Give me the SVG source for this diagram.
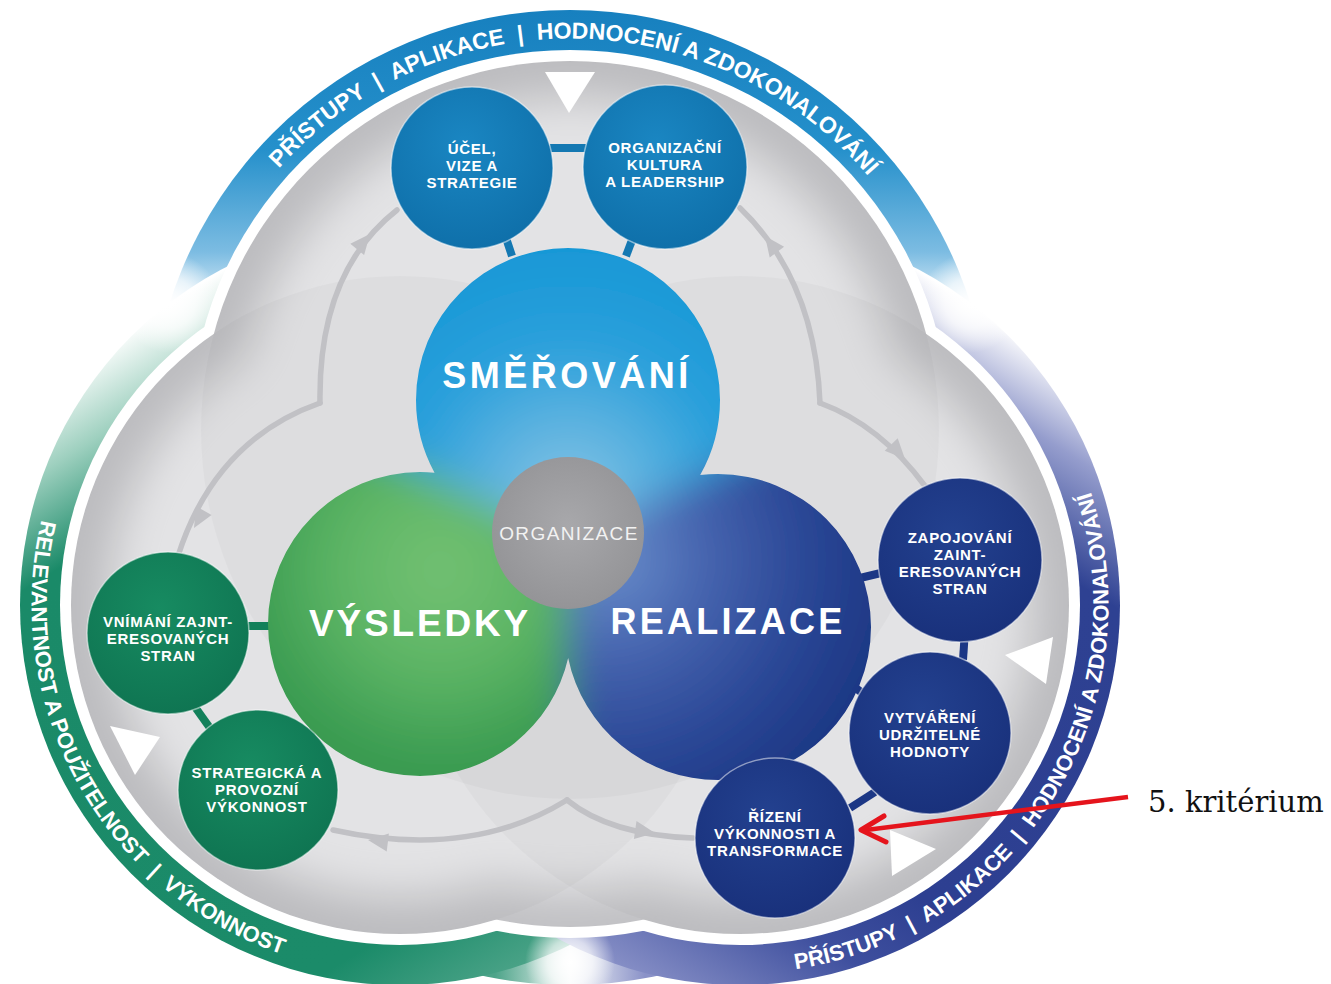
<svg xmlns="http://www.w3.org/2000/svg" width="1331" height="984" viewBox="0 0 1331 984">
<defs>
<style>
.ringtxt{font-family:"Liberation Sans",Arial,sans-serif;font-weight:bold;font-size:23px;fill:#fff;white-space:pre}
.sat{font-family:"Liberation Sans",Arial,sans-serif;font-weight:bold;font-size:15px;letter-spacing:0.7px;fill:#fff;text-anchor:middle}
.big{font-family:"Liberation Sans",Arial,sans-serif;font-weight:bold;fill:#fff;text-anchor:middle}
.flow{fill:none;stroke:#c1c1c5;stroke-width:5.5;stroke-linecap:round}
.head{fill:#c1c1c5}
.bar-b{stroke:#1478b2;stroke-width:8}
.bar-g{stroke:#12805a;stroke-width:8}
.bar-n{stroke:#1c3785;stroke-width:8}
.tri{fill:#fff}
.satc{stroke:#fff;stroke-opacity:0.5;stroke-width:1.5}
.grey{fill:#c1c1c4}
.light{fill:#e9e9eb}
.wht{fill:#fff}
.ovl{fill:#000;fill-opacity:0.025}
</style>
<linearGradient id="gTop" gradientUnits="userSpaceOnUse" x1="0" y1="10" x2="0" y2="320">
 <stop offset="0" stop-color="#1780bf"/>
 <stop offset="0.45" stop-color="#2590cb"/>
 <stop offset="0.78" stop-color="#7cbce2"/>
 <stop offset="1" stop-color="#ffffff"/>
</linearGradient>
<linearGradient id="gGreen" gradientUnits="userSpaceOnUse" x1="170" y1="303" x2="570" y2="945">
 <stop offset="0" stop-color="#ffffff"/>
 <stop offset="0.1" stop-color="#9ed0bf"/>
 <stop offset="0.22" stop-color="#1a8a68"/>
 <stop offset="0.86" stop-color="#1b8b69"/>
 <stop offset="1" stop-color="#4da489"/>
</linearGradient>
<linearGradient id="gNavy" gradientUnits="userSpaceOnUse" x1="570" y1="945" x2="970" y2="303">
 <stop offset="0" stop-color="#8a92c8"/>
 <stop offset="0.18" stop-color="#3e4f9e"/>
 <stop offset="0.3" stop-color="#2d3f91"/>
 <stop offset="0.76" stop-color="#2e4192"/>
 <stop offset="0.9" stop-color="#959dcd"/>
 <stop offset="1" stop-color="#ffffff"/>
</linearGradient>
<linearGradient id="gBottom" gradientUnits="userSpaceOnUse" x1="495" y1="0" x2="645" y2="0">
 <stop offset="0" stop-color="#4da489"/>
 <stop offset="0.5" stop-color="#f4f7f8"/>
 <stop offset="1" stop-color="#8a92c8"/>
</linearGradient>
<radialGradient id="glare">
 <stop offset="0" stop-color="#fff" stop-opacity="1"/>
 <stop offset="0.5" stop-color="#fff" stop-opacity="0.7"/>
 <stop offset="1" stop-color="#fff" stop-opacity="0"/>
</radialGradient>
<radialGradient id="secTop" gradientUnits="userSpaceOnUse" cx="568" cy="500" r="260">
 <stop offset="0" stop-color="#8ac6e4"/>
 <stop offset="0.3" stop-color="#5cb2e0"/>
 <stop offset="0.6" stop-color="#2aa0db"/>
 <stop offset="1" stop-color="#1797d6"/>
</radialGradient>
<radialGradient id="secGreen" gradientUnits="userSpaceOnUse" cx="440" cy="570" r="200">
 <stop offset="0" stop-color="#74c173"/>
 <stop offset="0.5" stop-color="#5db565"/>
 <stop offset="1" stop-color="#389a50"/>
</radialGradient>
<radialGradient id="secNavy" gradientUnits="userSpaceOnUse" cx="610" cy="560" r="280">
 <stop offset="0" stop-color="#6a8fcc"/>
 <stop offset="0.35" stop-color="#4563ae"/>
 <stop offset="0.7" stop-color="#2a4796"/>
 <stop offset="1" stop-color="#1d3784"/>
</radialGradient>
<radialGradient id="satB" cx="45%" cy="35%" r="65%">
 <stop offset="0" stop-color="#1a86c2"/>
 <stop offset="1" stop-color="#0f70aa"/>
</radialGradient>
<radialGradient id="satG" cx="45%" cy="35%" r="65%">
 <stop offset="0" stop-color="#178b61"/>
 <stop offset="1" stop-color="#0f7552"/>
</radialGradient>
<radialGradient id="satN" cx="45%" cy="35%" r="65%">
 <stop offset="0" stop-color="#23418f"/>
 <stop offset="1" stop-color="#19317c"/>
</radialGradient>
<radialGradient id="orgG" cx="50%" cy="45%" r="55%">
 <stop offset="0" stop-color="#a8a8ab"/>
 <stop offset="1" stop-color="#949497"/>
</radialGradient>
<filter id="blur" filterUnits="userSpaceOnUse" x="0" y="0" width="1331" height="984">
 <feGaussianBlur stdDeviation="20"/>
</filter>
<filter id="blurGrey" filterUnits="userSpaceOnUse" x="0" y="0" width="1331" height="984">
 <feGaussianBlur stdDeviation="22"/>
</filter>
<clipPath id="coreClip">
 <circle cx="568" cy="400" r="152"/>
 <circle cx="420" cy="624" r="152"/>
 <circle cx="718" cy="627" r="153"/>
</clipPath>
<clipPath id="greyClip">
 <circle cx="570" cy="430" r="369"/>
 <circle cx="400" cy="605" r="329"/>
 <circle cx="740" cy="605" r="329"/>
 <circle cx="570" cy="560" r="367"/>
</clipPath>
<path id="pTop" d="M 231 234.3 A 391.5 391.5 0 0 1 914.1 243.2"/>
<path id="pGreen" d="M 84.1 415.2 A 368.5 368.5 0 0 0 393.6 973.4"/>
<path id="pNavy" d="M 676 967.9 A 368.5 368.5 0 0 0 1035.8 385.3"/>
</defs>

<rect width="1331" height="984" fill="#fff"/>

<g id="frame">
 <circle cx="570" cy="560" r="425" fill="url(#gBottom)"/>
 <circle cx="570" cy="430" r="420" fill="url(#gTop)"/>
 <circle cx="400" cy="605" r="380" fill="url(#gGreen)"/>
 <circle cx="740" cy="605" r="380" fill="url(#gNavy)"/>
 <circle cx="170" cy="303" r="50" fill="url(#glare)"/>
 <circle cx="970" cy="303" r="50" fill="url(#glare)"/>
 <circle cx="570" cy="962" r="45" fill="url(#glare)"/>
 <circle class="wht" cx="570" cy="430" r="380"/>
 <circle class="wht" cx="400" cy="605" r="340"/>
 <circle class="wht" cx="740" cy="605" r="340"/>
 <circle class="wht" cx="570" cy="560" r="378"/>
 <circle class="grey" cx="570" cy="430" r="369"/>
 <circle class="grey" cx="400" cy="605" r="329"/>
 <circle class="grey" cx="740" cy="605" r="329"/>
 <circle class="grey" cx="570" cy="560" r="367"/>
 <g clip-path="url(#greyClip)">
  <g filter="url(#blurGrey)">
   <circle class="light" cx="570" cy="430" r="332"/>
   <circle class="light" cx="400" cy="605" r="292"/>
   <circle class="light" cx="740" cy="605" r="292"/>
   <circle class="light" cx="570" cy="560" r="330"/>
  </g>
  <circle class="ovl" cx="570" cy="430" r="369"/>
  <circle class="ovl" cx="400" cy="605" r="329"/>
  <circle class="ovl" cx="740" cy="605" r="329"/>
 </g>
 <text class="ringtxt"><textPath href="#pTop" startOffset="50%" text-anchor="middle">PŘÍSTUPY  |  APLIKACE  |  HODNOCENÍ A ZDOKONALOVÁNÍ</textPath></text>
 <text class="ringtxt" style="font-size:22px"><textPath href="#pGreen" startOffset="50%" text-anchor="middle">RELEVANTNOST A POUŽITELNOST  |  VÝKONNOST</textPath></text>
 <text class="ringtxt" style="font-size:22px"><textPath href="#pNavy" startOffset="50%" text-anchor="middle">PŘÍSTUPY  |  APLIKACE  |  HODNOCENÍ A ZDOKONALOVÁNÍ</textPath></text>
 <polygon class="tri" points="545,72 595,72 569,113"/>
 <polygon class="tri" points="110,726 160,737 135,775"/>
 <polygon class="tri" points="1005,655 1053,637 1046,684"/>
 <polygon class="tri" points="890,830 936,849 892,876"/>
</g>

<g id="connectors">
 <path class="flow" d="M 320 403 Q 318 272 397 210"/>
 <path class="flow" d="M 320 403 Q 215 440 178 556"/>
 <polygon class="head" points="370,234 364.1,255.1 350.3,243.7"/>
 <polygon class="head" points="194,528 211.6,515 196,506.2"/>
 <path class="flow" d="M 820 403 Q 815 280 740 208"/>
 <path class="flow" d="M 820 403 Q 880 425 925 486"/>
 <polygon class="head" points="765,236 784.1,246.7 769.7,257.5"/>
 <polygon class="head" points="905,459 897.7,438.3 884.7,450.7"/>
 <path class="flow" d="M 567 800 Q 470 860 333 830"/>
 <path class="flow" d="M 567 800 Q 610 835 693 838"/>
 <polygon class="head" points="368,840 388.9,833.6 386.7,851.4"/>
 <polygon class="head" points="655,833 636.5,821.1 633.9,838.9"/>
 <line class="bar-b" x1="550" y1="148" x2="586" y2="148"/>
 <line class="bar-b" x1="505" y1="235" x2="512" y2="256"/>
 <line class="bar-b" x1="634" y1="235" x2="626" y2="256"/>
 <line class="bar-g" x1="245" y1="626" x2="275" y2="626"/>
 <line class="bar-g" x1="190" y1="700" x2="210" y2="728"/>
 <line class="bar-g" x1="305" y1="738" x2="325" y2="720"/>
 <line class="bar-n" x1="860" y1="578" x2="885" y2="572"/>
 <line class="bar-n" x1="965" y1="630" x2="963" y2="660"/>
 <line class="bar-n" x1="845" y1="680" x2="865" y2="695"/>
 <line class="bar-n" x1="850" y1="808" x2="875" y2="792"/>
 <line class="bar-n" x1="752" y1="745" x2="757" y2="768"/>
</g>

<g id="core-fill" clip-path="url(#coreClip)">
 <g filter="url(#blur)">
  <polygon points="568,540 24,286 0,100 0,0 1331,0 1331,100 1112,286" fill="url(#secTop)"/>
  <polygon points="568,540 24,286 0,286 0,984 568,984" fill="url(#secGreen)"/>
  <polygon points="568,540 568,984 1331,984 1331,286 1112,286" fill="url(#secNavy)"/>
 </g>
</g>

<g id="node-smerovani">
 <circle cx="568" cy="400" r="152" fill="none"/>
 <text class="big" x="567" y="388" font-size="36" letter-spacing="3.5">SMĚŘOVÁNÍ</text>
</g>
<g id="node-vysledky">
 <circle cx="420" cy="624" r="152" fill="none"/>
 <text class="big" x="420" y="636" font-size="37" letter-spacing="2.8">VÝSLEDKY</text>
</g>
<g id="node-realizace">
 <circle cx="718" cy="627" r="153" fill="none"/>
 <text class="big" x="728" y="634" font-size="36" letter-spacing="3.2">REALIZACE</text>
</g>
<g id="node-organizace">
 <circle cx="568" cy="533" r="76" fill="url(#orgG)"/>
 <text x="569" y="540" font-family="Liberation Sans, Arial, sans-serif" font-size="19" letter-spacing="1.4" fill="#f2f2f2" text-anchor="middle">ORGANIZACE</text>
</g>

<g id="node-ucel">
 <circle class="satc" cx="472" cy="168" r="81" fill="url(#satB)"/>
 <text class="sat" x="472" y="153.5"><tspan x="472">ÚČEL,</tspan><tspan x="472" dy="17">VIZE A</tspan><tspan x="472" dy="17">STRATEGIE</tspan></text>
</g>
<g id="node-kultura">
 <circle class="satc" cx="665" cy="167" r="82" fill="url(#satB)"/>
 <text class="sat" x="665" y="153"><tspan x="665">ORGANIZAČNÍ</tspan><tspan x="665" dy="17">KULTURA</tspan><tspan x="665" dy="17">A LEADERSHIP</tspan></text>
</g>
<g id="node-vnimani">
 <circle class="satc" cx="168" cy="633" r="81" fill="url(#satG)"/>
 <text class="sat" x="168" y="627"><tspan x="168">VNÍMÁNÍ ZAJNT-</tspan><tspan x="168" dy="17">ERESOVANÝCH</tspan><tspan x="168" dy="17">STRAN</tspan></text>
</g>
<g id="node-strategicka">
 <circle class="satc" cx="258" cy="790" r="80" fill="url(#satG)"/>
 <text class="sat" x="257" y="778"><tspan x="257">STRATEGICKÁ A</tspan><tspan x="257" dy="17">PROVOZNÍ</tspan><tspan x="257" dy="17">VÝKONNOST</tspan></text>
</g>
<g id="node-zapojovani">
 <circle class="satc" cx="960" cy="560" r="82" fill="url(#satN)"/>
 <text class="sat" x="960" y="543"><tspan x="960">ZAPOJOVÁNÍ</tspan><tspan x="960" dy="17">ZAINT-</tspan><tspan x="960" dy="17">ERESOVANÝCH</tspan><tspan x="960" dy="17">STRAN</tspan></text>
</g>
<g id="node-vytvareni">
 <circle class="satc" cx="930" cy="733" r="81" fill="url(#satN)"/>
 <text class="sat" x="930" y="723"><tspan x="930">VYTVÁŘENÍ</tspan><tspan x="930" dy="17">UDRŽITELNÉ</tspan><tspan x="930" dy="17">HODNOTY</tspan></text>
</g>
<g id="node-rizeni">
 <circle class="satc" cx="775" cy="838" r="80" fill="url(#satN)"/>
 <text class="sat" x="775" y="822"><tspan x="775">ŘÍZENÍ</tspan><tspan x="775" dy="17">VÝKONNOSTI A</tspan><tspan x="775" dy="17">TRANSFORMACE</tspan></text>
</g>

<g id="annotation">
 <line x1="1128" y1="797" x2="866" y2="830" stroke="#e5141c" stroke-width="4.5"/>
 <polyline points="884,816 861,830 886,842" fill="none" stroke="#e5141c" stroke-width="5" stroke-linecap="round" stroke-linejoin="round"/>
 <text x="1148" y="812" font-family="DejaVu Serif, Liberation Serif, serif" font-size="29" fill="#111">5. kritérium</text>
</g>
</svg>
